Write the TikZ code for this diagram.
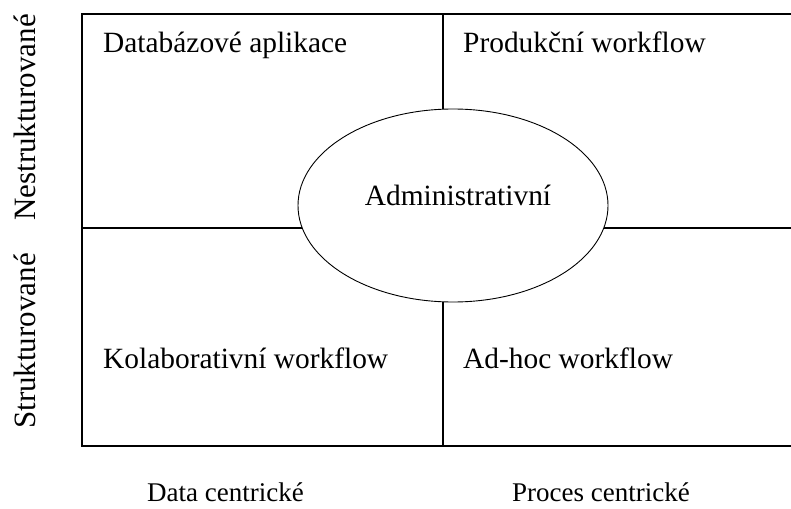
\documentclass[tikz,border=0pt]{standalone}
\usepackage{fontspec}
\setmainfont{Liberation Serif}
\usetikzlibrary{shapes.geometric}
\begin{document}
\begin{tikzpicture}[x=1pt,y=-1pt,
  frame/.style={line width=2pt},
  divider/.style={line width=1.6pt},
  bubble/.style={ellipse,draw,line width=0.9pt,fill=white,inner sep=0pt,
    minimum width=310pt,minimum height=193pt},
  label/.style={font=\fontsize{29.4}{35}\selectfont,inner sep=0pt},
  axislabel/.style={inner sep=0pt,font=\fontsize{31}{37}\selectfont,rotate=90,anchor=base},
  footlabel/.style={inner sep=0pt,font=\fontsize{27}{32}\selectfont,anchor=base west}]
  \useasboundingbox (0,0) rectangle (791,508);
  \begin{scope}
    \clip (0,0) rectangle (791,508);
    % outer frame (right side runs past the page edge)
    \coordinate (tl) at (82,14);
    \coordinate (br) at (800,445.5);
    \draw[frame] (tl) rectangle (br);
    % quadrant dividers
    \coordinate (vtop) at (443,14);
    \coordinate (vbot) at (443,445.5);
    \coordinate (hleft) at (82,228);
    \coordinate (hright) at (800,228);
    \draw[divider] (vtop) -- (vbot);
    \draw[divider] (hleft) -- (hright);
  \end{scope}
  % central category
  \node[bubble] (admin) at (453,205.5) {};
  \node[label] (admintext) at (458,195) {Administrativní};
  % quadrant labels
  \node[label,anchor=base west] (db) at (103,53) {Databázové aplikace};
  \node[label,anchor=base west] (prod) at (463,53) {Produkční workflow};
  \node[label,anchor=base west] (kol) at (103,368) {Kolaborativní workflow};
  \node[label,anchor=base west] (adhoc) at (463,368) {Ad-hoc workflow};
  % axis labels
  \node[axislabel] (nestr) at (35,117.5) {Nestrukturované};
  \node[axislabel] (str) at (35,341) {Strukturované};
  \node[footlabel] (data) at (147,501) {Data centrické};
  \node[footlabel] (proc) at (512,501) {Proces centrické};
\end{tikzpicture}
\end{document}
